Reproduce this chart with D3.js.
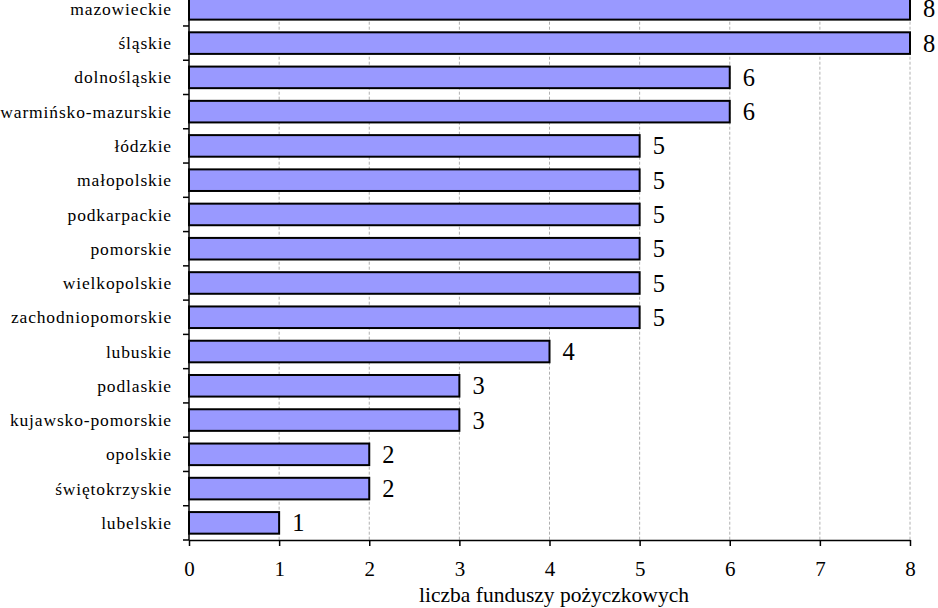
<!DOCTYPE html>
<html>
<head>
<meta charset="utf-8">
<script src="https://cdn.jsdelivr.net/npm/d3@7"></script>
<style>
  body { margin: 0; background: #fff; }
  svg { display: block; }
  svg text { font-family: 'Liberation Serif', 'DejaVu Serif', 'Times New Roman', Times, serif !important; }
</style>
</head>
<body>
<svg id="chart" width="938" height="608"></svg>
<script>
const regions = [
  "mazowieckie", "śląskie", "dolnośląskie", "warmińsko-mazurskie", "łódzkie",
  "małopolskie", "podkarpackie", "pomorskie", "wielkopolskie", "zachodniopomorskie",
  "lubuskie", "podlaskie", "kujawsko-pomorskie", "opolskie", "świętokrzyskie", "lubelskie"
];
const funds = [8, 8, 6, 6, 5, 5, 5, 5, 5, 5, 4, 3, 3, 2, 2, 1];
const xTicks = [0, 1, 2, 3, 4, 5, 6, 7, 8];
const xTitle = "liczba funduszy pożyczkowych";

const svg = d3.select("#chart");
const plotLeft = 189, plotRight = 910, plotTop = -8.3, plotBottom = 540;

const x = d3.scaleLinear().domain([0, 8]).range([plotLeft, plotRight]);
const y = d3.scaleBand().domain(regions).range([plotTop, plotBottom]).paddingInner(0.37).paddingOuter(0.185);

// gridlines
svg.append("g").selectAll("line")
  .data(xTicks.filter(d => d > 0))
  .join("line")
  .attr("x1", d => x(d)).attr("x2", d => x(d))
  .attr("y1", plotTop).attr("y2", plotBottom)
  .attr("stroke", "#b0b0b0")
  .attr("stroke-width", 1)
  .attr("stroke-dasharray", "3,2");

// bars
svg.append("g").selectAll("rect")
  .data(funds)
  .join("rect")
  .attr("x", x(0))
  .attr("y", (d, i) => y(regions[i]))
  .attr("width", d => x(d) - x(0))
  .attr("height", y.bandwidth())
  .attr("fill", "#9999ff")
  .attr("stroke", "#000")
  .attr("stroke-width", 2);

// value labels
svg.append("g").selectAll("text")
  .data(funds)
  .join("text")
  .attr("x", d => x(d) + 13)
  .attr("y", (d, i) => y(regions[i]) + y.bandwidth() / 2)
  .attr("dy", "0.35em")
  .attr("font-size", 24.5)
  .text(d => d);

// y axis: line with ticks at category boundaries
const step = y.step();
const yAxis = svg.append("g");
yAxis.append("line")
  .attr("x1", plotLeft).attr("x2", plotLeft)
  .attr("y1", plotTop).attr("y2", plotBottom)
  .attr("stroke", "#000").attr("stroke-width", 1.5);
yAxis.selectAll("line.tick")
  .data(d3.range(regions.length + 1))
  .join("line")
  .attr("class", "tick")
  .attr("x1", plotLeft - 6).attr("x2", plotLeft)
  .attr("y1", i => plotTop + i * step).attr("y2", i => plotTop + i * step)
  .attr("stroke", "#000").attr("stroke-width", 1.5);
yAxis.selectAll("text")
  .data(regions)
  .join("text")
  .attr("x", 172)
  .attr("y", d => y(d) + y.bandwidth() / 2)
  .attr("dy", "0.35em")
  .attr("text-anchor", "end")
  .attr("font-size", 17.5)
  .attr("letter-spacing", 0.85)
  .text(d => d);

// x axis
const xAxis = svg.append("g").attr("transform", `translate(0,${plotBottom})`)
  .call(d3.axisBottom(x).tickValues(xTicks).tickSize(6).tickSizeOuter(0).tickFormat(d3.format("d")))
  .attr("font-size", 21);
xAxis.select(".domain").attr("stroke-width", 1.5);
xAxis.selectAll(".tick line").attr("stroke-width", 1.5);
xAxis.selectAll(".tick text")
  .attr("y", 21)
  .attr("dy", "0.71em");

svg.append("text")
  .attr("x", 554)
  .attr("y", 602)
  .attr("text-anchor", "middle")
  .attr("font-size", 21.5)
  .text(xTitle);
</script>
</body>
</html>
